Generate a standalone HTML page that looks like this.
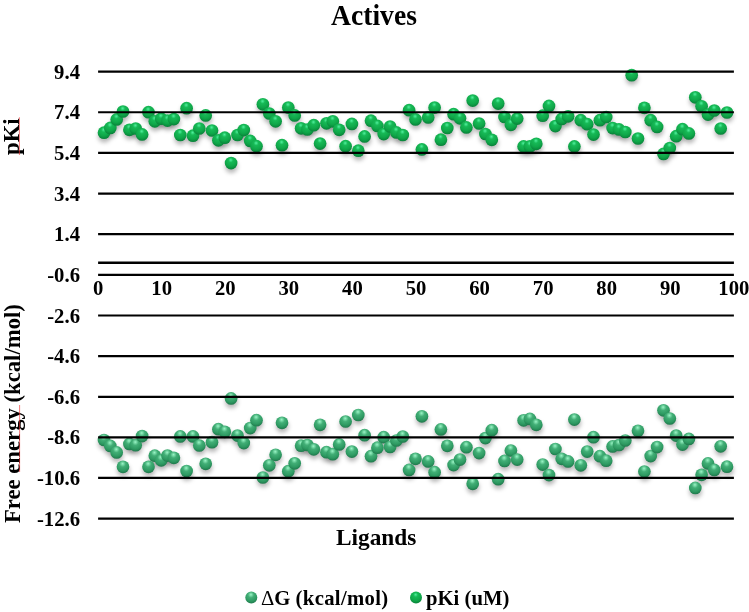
<!DOCTYPE html>
<html><head><meta charset="utf-8"><title>Actives</title>
<style>
html,body{margin:0;padding:0;background:#fff;}
body{width:749px;height:612px;overflow:hidden;}
svg{display:block;}
text{font-family:"Liberation Serif","Times New Roman",serif;font-weight:bold;fill:#000;}
</style></head><body>
<svg width="749" height="612" viewBox="0 0 749 612">
<defs>
<radialGradient id="gp" cx="0.47" cy="0.3" r="0.75" fx="0.47" fy="0.25">
<stop offset="0" stop-color="#50f09e"/>
<stop offset="0.25" stop-color="#17b956"/>
<stop offset="0.62" stop-color="#0fa749"/>
<stop offset="1" stop-color="#077a36"/>
</radialGradient>
<radialGradient id="gb" cx="0.47" cy="0.3" r="0.75" fx="0.47" fy="0.25">
<stop offset="0" stop-color="#9af5c6"/>
<stop offset="0.33" stop-color="#42ae76"/>
<stop offset="0.68" stop-color="#2e9a62"/>
<stop offset="1" stop-color="#1b7046"/>
</radialGradient>
<filter id="sh" x="-50%" y="-50%" width="200%" height="200%"><feGaussianBlur stdDeviation="2.2"/></filter>
</defs>
<rect width="749" height="612" fill="#fff"/>
<text x="374" y="25" transform="matrix(1 0 0 1.055 0 -1.375)" font-size="27.6" text-anchor="middle">Actives</text>
<g filter="url(#sh)" fill="#000" fill-opacity="0.28">
<circle cx="104.3" cy="136.2" r="6.35"/><circle cx="110.6" cy="131.4" r="6.35"/><circle cx="117.0" cy="122.9" r="6.35"/><circle cx="123.3" cy="115.0" r="6.35"/><circle cx="129.7" cy="133.3" r="6.35"/><circle cx="136.0" cy="132.0" r="6.35"/><circle cx="142.4" cy="137.9" r="6.35"/><circle cx="148.8" cy="115.7" r="6.35"/><circle cx="155.1" cy="124.8" r="6.35"/><circle cx="161.5" cy="122.2" r="6.35"/><circle cx="167.8" cy="124.1" r="6.35"/><circle cx="174.2" cy="122.6" r="6.35"/><circle cx="180.6" cy="138.5" r="6.35"/><circle cx="186.9" cy="111.7" r="6.35"/><circle cx="193.3" cy="139.2" r="6.35"/><circle cx="199.6" cy="132.0" r="6.35"/><circle cx="206.0" cy="118.9" r="6.35"/><circle cx="212.3" cy="134.0" r="6.35"/><circle cx="218.7" cy="143.8" r="6.35"/><circle cx="225.1" cy="141.2" r="6.35"/><circle cx="231.4" cy="166.6" r="6.35"/><circle cx="237.8" cy="138.5" r="6.35"/><circle cx="244.1" cy="133.6" r="6.35"/><circle cx="250.5" cy="144.4" r="6.35"/><circle cx="256.8" cy="149.7" r="6.35"/><circle cx="263.2" cy="107.8" r="6.35"/><circle cx="269.6" cy="117.0" r="6.35"/><circle cx="275.9" cy="124.8" r="6.35"/><circle cx="282.3" cy="148.7" r="6.35"/><circle cx="288.6" cy="111.1" r="6.35"/><circle cx="295.0" cy="118.9" r="6.35"/><circle cx="301.4" cy="131.8" r="6.35"/><circle cx="307.7" cy="133.0" r="6.35"/><circle cx="314.1" cy="128.7" r="6.35"/><circle cx="320.4" cy="147.1" r="6.35"/><circle cx="326.8" cy="126.8" r="6.35"/><circle cx="333.1" cy="124.8" r="6.35"/><circle cx="339.5" cy="133.3" r="6.35"/><circle cx="345.9" cy="149.7" r="6.35"/><circle cx="352.2" cy="127.4" r="6.35"/><circle cx="358.6" cy="154.2" r="6.35"/><circle cx="364.9" cy="139.9" r="6.35"/><circle cx="371.3" cy="124.2" r="6.35"/><circle cx="377.7" cy="129.4" r="6.35"/><circle cx="384.0" cy="137.6" r="6.35"/><circle cx="390.4" cy="130.0" r="6.35"/><circle cx="396.7" cy="135.9" r="6.35"/><circle cx="403.1" cy="138.5" r="6.35"/><circle cx="409.4" cy="113.7" r="6.35"/><circle cx="415.8" cy="122.9" r="6.35"/><circle cx="422.2" cy="152.9" r="6.35"/><circle cx="428.5" cy="120.9" r="6.35"/><circle cx="434.9" cy="111.1" r="6.35"/><circle cx="441.2" cy="143.2" r="6.35"/><circle cx="447.6" cy="131.5" r="6.35"/><circle cx="453.9" cy="117.7" r="6.35"/><circle cx="460.3" cy="121.8" r="6.35"/><circle cx="466.7" cy="130.9" r="6.35"/><circle cx="473.0" cy="104.1" r="6.35"/><circle cx="479.4" cy="127.0" r="6.35"/><circle cx="485.7" cy="137.5" r="6.35"/><circle cx="492.1" cy="143.3" r="6.35"/><circle cx="498.5" cy="107.1" r="6.35"/><circle cx="504.8" cy="120.5" r="6.35"/><circle cx="511.2" cy="128.3" r="6.35"/><circle cx="517.5" cy="122.1" r="6.35"/><circle cx="523.9" cy="149.9" r="6.35"/><circle cx="530.2" cy="149.9" r="6.35"/><circle cx="536.6" cy="147.3" r="6.35"/><circle cx="543.0" cy="119.2" r="6.35"/><circle cx="549.3" cy="109.4" r="6.35"/><circle cx="555.7" cy="129.6" r="6.35"/><circle cx="562.0" cy="122.4" r="6.35"/><circle cx="568.4" cy="119.8" r="6.35"/><circle cx="574.7" cy="149.9" r="6.35"/><circle cx="581.1" cy="123.7" r="6.35"/><circle cx="587.5" cy="127.7" r="6.35"/><circle cx="593.8" cy="138.1" r="6.35"/><circle cx="600.2" cy="123.7" r="6.35"/><circle cx="606.5" cy="120.5" r="6.35"/><circle cx="612.9" cy="131.6" r="6.35"/><circle cx="619.3" cy="132.9" r="6.35"/><circle cx="625.6" cy="135.5" r="6.35"/><circle cx="632.0" cy="78.7" r="6.35"/><circle cx="638.3" cy="142.0" r="6.35"/><circle cx="644.7" cy="111.3" r="6.35"/><circle cx="651.0" cy="123.7" r="6.35"/><circle cx="657.4" cy="130.4" r="6.35"/><circle cx="663.8" cy="157.4" r="6.35"/><circle cx="670.1" cy="151.5" r="6.35"/><circle cx="676.5" cy="139.7" r="6.35"/><circle cx="682.8" cy="132.7" r="6.35"/><circle cx="689.2" cy="136.9" r="6.35"/><circle cx="695.6" cy="100.8" r="6.35"/><circle cx="701.9" cy="109.8" r="6.35"/><circle cx="708.3" cy="118.1" r="6.35"/><circle cx="714.6" cy="114.0" r="6.35"/><circle cx="721.0" cy="132.0" r="6.35"/><circle cx="727.3" cy="116.0" r="6.35"/><circle cx="104.3" cy="443.5" r="6.35"/><circle cx="110.6" cy="449.4" r="6.35"/><circle cx="117.0" cy="455.9" r="6.35"/><circle cx="123.3" cy="470.3" r="6.35"/><circle cx="129.7" cy="447.4" r="6.35"/><circle cx="136.0" cy="448.7" r="6.35"/><circle cx="142.4" cy="439.6" r="6.35"/><circle cx="148.8" cy="470.3" r="6.35"/><circle cx="155.1" cy="459.2" r="6.35"/><circle cx="161.5" cy="463.8" r="6.35"/><circle cx="167.8" cy="459.1" r="6.35"/><circle cx="174.2" cy="461.3" r="6.35"/><circle cx="180.6" cy="439.9" r="6.35"/><circle cx="186.9" cy="474.6" r="6.35"/><circle cx="193.3" cy="439.9" r="6.35"/><circle cx="199.6" cy="449.0" r="6.35"/><circle cx="206.0" cy="467.3" r="6.35"/><circle cx="212.3" cy="445.7" r="6.35"/><circle cx="218.7" cy="432.7" r="6.35"/><circle cx="225.1" cy="435.3" r="6.35"/><circle cx="231.4" cy="401.9" r="6.35"/><circle cx="237.8" cy="439.1" r="6.35"/><circle cx="244.1" cy="446.6" r="6.35"/><circle cx="250.5" cy="431.6" r="6.35"/><circle cx="256.8" cy="423.7" r="6.35"/><circle cx="263.2" cy="481.0" r="6.35"/><circle cx="269.6" cy="468.8" r="6.35"/><circle cx="275.9" cy="458.3" r="6.35"/><circle cx="282.3" cy="426.3" r="6.35"/><circle cx="288.6" cy="474.7" r="6.35"/><circle cx="295.0" cy="466.8" r="6.35"/><circle cx="301.4" cy="449.2" r="6.35"/><circle cx="307.7" cy="448.5" r="6.35"/><circle cx="314.1" cy="452.8" r="6.35"/><circle cx="320.4" cy="428.3" r="6.35"/><circle cx="326.8" cy="455.7" r="6.35"/><circle cx="333.1" cy="457.7" r="6.35"/><circle cx="339.5" cy="447.9" r="6.35"/><circle cx="345.9" cy="425.0" r="6.35"/><circle cx="352.2" cy="455.1" r="6.35"/><circle cx="358.6" cy="418.5" r="6.35"/><circle cx="364.9" cy="438.7" r="6.35"/><circle cx="371.3" cy="459.7" r="6.35"/><circle cx="377.7" cy="451.2" r="6.35"/><circle cx="384.0" cy="440.7" r="6.35"/><circle cx="390.4" cy="450.5" r="6.35"/><circle cx="396.7" cy="444.0" r="6.35"/><circle cx="403.1" cy="440.0" r="6.35"/><circle cx="409.4" cy="473.4" r="6.35"/><circle cx="415.8" cy="462.3" r="6.35"/><circle cx="422.2" cy="419.8" r="6.35"/><circle cx="428.5" cy="464.9" r="6.35"/><circle cx="434.9" cy="475.7" r="6.35"/><circle cx="441.2" cy="432.9" r="6.35"/><circle cx="447.6" cy="449.3" r="6.35"/><circle cx="453.9" cy="468.6" r="6.35"/><circle cx="460.3" cy="463.1" r="6.35"/><circle cx="466.7" cy="450.7" r="6.35"/><circle cx="473.0" cy="487.3" r="6.35"/><circle cx="479.4" cy="456.6" r="6.35"/><circle cx="485.7" cy="441.6" r="6.35"/><circle cx="492.1" cy="433.7" r="6.35"/><circle cx="498.5" cy="482.7" r="6.35"/><circle cx="504.8" cy="464.4" r="6.35"/><circle cx="511.2" cy="454.0" r="6.35"/><circle cx="517.5" cy="463.1" r="6.35"/><circle cx="523.9" cy="423.8" r="6.35"/><circle cx="530.2" cy="422.4" r="6.35"/><circle cx="536.6" cy="428.3" r="6.35"/><circle cx="543.0" cy="468.1" r="6.35"/><circle cx="549.3" cy="478.6" r="6.35"/><circle cx="555.7" cy="452.5" r="6.35"/><circle cx="562.0" cy="462.3" r="6.35"/><circle cx="568.4" cy="464.9" r="6.35"/><circle cx="574.7" cy="423.1" r="6.35"/><circle cx="581.1" cy="468.8" r="6.35"/><circle cx="587.5" cy="455.1" r="6.35"/><circle cx="593.8" cy="440.7" r="6.35"/><circle cx="600.2" cy="459.7" r="6.35"/><circle cx="606.5" cy="464.2" r="6.35"/><circle cx="612.9" cy="449.9" r="6.35"/><circle cx="619.3" cy="448.5" r="6.35"/><circle cx="625.6" cy="444.0" r="6.35"/><circle cx="638.3" cy="434.3" r="6.35"/><circle cx="644.7" cy="475.1" r="6.35"/><circle cx="651.0" cy="459.6" r="6.35"/><circle cx="657.4" cy="450.6" r="6.35"/><circle cx="663.8" cy="413.8" r="6.35"/><circle cx="670.1" cy="422.0" r="6.35"/><circle cx="676.5" cy="439.1" r="6.35"/><circle cx="682.8" cy="448.1" r="6.35"/><circle cx="689.2" cy="442.4" r="6.35"/><circle cx="695.6" cy="491.4" r="6.35"/><circle cx="701.9" cy="478.3" r="6.35"/><circle cx="708.3" cy="466.9" r="6.35"/><circle cx="714.6" cy="473.4" r="6.35"/><circle cx="721.0" cy="449.8" r="6.35"/><circle cx="727.3" cy="470.2" r="6.35"/>
</g>
<g fill="url(#gp)">
<circle cx="104.0" cy="132.7" r="6.35"/><circle cx="110.3" cy="127.9" r="6.35"/><circle cx="116.7" cy="119.4" r="6.35"/><circle cx="123.0" cy="111.5" r="6.35"/><circle cx="129.4" cy="129.8" r="6.35"/><circle cx="135.7" cy="128.5" r="6.35"/><circle cx="142.1" cy="134.4" r="6.35"/><circle cx="148.5" cy="112.2" r="6.35"/><circle cx="154.8" cy="121.3" r="6.35"/><circle cx="161.2" cy="118.7" r="6.35"/><circle cx="167.5" cy="120.6" r="6.35"/><circle cx="173.9" cy="119.1" r="6.35"/><circle cx="180.3" cy="135.0" r="6.35"/><circle cx="186.6" cy="108.2" r="6.35"/><circle cx="193.0" cy="135.7" r="6.35"/><circle cx="199.3" cy="128.5" r="6.35"/><circle cx="205.7" cy="115.4" r="6.35"/><circle cx="212.0" cy="130.5" r="6.35"/><circle cx="218.4" cy="140.3" r="6.35"/><circle cx="224.8" cy="137.7" r="6.35"/><circle cx="231.1" cy="163.1" r="6.35"/><circle cx="237.5" cy="135.0" r="6.35"/><circle cx="243.8" cy="130.1" r="6.35"/><circle cx="250.2" cy="140.9" r="6.35"/><circle cx="256.5" cy="146.2" r="6.35"/><circle cx="262.9" cy="104.3" r="6.35"/><circle cx="269.3" cy="113.5" r="6.35"/><circle cx="275.6" cy="121.3" r="6.35"/><circle cx="282.0" cy="145.2" r="6.35"/><circle cx="288.3" cy="107.6" r="6.35"/><circle cx="294.7" cy="115.4" r="6.35"/><circle cx="301.1" cy="128.3" r="6.35"/><circle cx="307.4" cy="129.5" r="6.35"/><circle cx="313.8" cy="125.2" r="6.35"/><circle cx="320.1" cy="143.6" r="6.35"/><circle cx="326.5" cy="123.3" r="6.35"/><circle cx="332.8" cy="121.3" r="6.35"/><circle cx="339.2" cy="129.8" r="6.35"/><circle cx="345.6" cy="146.2" r="6.35"/><circle cx="351.9" cy="123.9" r="6.35"/><circle cx="358.3" cy="150.7" r="6.35"/><circle cx="364.6" cy="136.4" r="6.35"/><circle cx="371.0" cy="120.7" r="6.35"/><circle cx="377.4" cy="125.9" r="6.35"/><circle cx="383.7" cy="134.1" r="6.35"/><circle cx="390.1" cy="126.5" r="6.35"/><circle cx="396.4" cy="132.4" r="6.35"/><circle cx="402.8" cy="135.0" r="6.35"/><circle cx="409.1" cy="110.2" r="6.35"/><circle cx="415.5" cy="119.4" r="6.35"/><circle cx="421.9" cy="149.4" r="6.35"/><circle cx="428.2" cy="117.4" r="6.35"/><circle cx="434.6" cy="107.6" r="6.35"/><circle cx="440.9" cy="139.7" r="6.35"/><circle cx="447.3" cy="128.0" r="6.35"/><circle cx="453.6" cy="114.2" r="6.35"/><circle cx="460.0" cy="118.3" r="6.35"/><circle cx="466.4" cy="127.4" r="6.35"/><circle cx="472.7" cy="100.6" r="6.35"/><circle cx="479.1" cy="123.5" r="6.35"/><circle cx="485.4" cy="134.0" r="6.35"/><circle cx="491.8" cy="139.8" r="6.35"/><circle cx="498.2" cy="103.6" r="6.35"/><circle cx="504.5" cy="117.0" r="6.35"/><circle cx="510.9" cy="124.8" r="6.35"/><circle cx="517.2" cy="118.6" r="6.35"/><circle cx="523.6" cy="146.4" r="6.35"/><circle cx="529.9" cy="146.4" r="6.35"/><circle cx="536.3" cy="143.8" r="6.35"/><circle cx="542.7" cy="115.7" r="6.35"/><circle cx="549.0" cy="105.9" r="6.35"/><circle cx="555.4" cy="126.1" r="6.35"/><circle cx="561.7" cy="118.9" r="6.35"/><circle cx="568.1" cy="116.3" r="6.35"/><circle cx="574.4" cy="146.4" r="6.35"/><circle cx="580.8" cy="120.2" r="6.35"/><circle cx="587.2" cy="124.2" r="6.35"/><circle cx="593.5" cy="134.6" r="6.35"/><circle cx="599.9" cy="120.2" r="6.35"/><circle cx="606.2" cy="117.0" r="6.35"/><circle cx="612.6" cy="128.1" r="6.35"/><circle cx="619.0" cy="129.4" r="6.35"/><circle cx="625.3" cy="132.0" r="6.35"/><circle cx="631.7" cy="75.2" r="6.35"/><circle cx="638.0" cy="138.5" r="6.35"/><circle cx="644.4" cy="107.8" r="6.35"/><circle cx="650.7" cy="120.2" r="6.35"/><circle cx="657.1" cy="126.9" r="6.35"/><circle cx="663.5" cy="153.9" r="6.35"/><circle cx="669.8" cy="148.0" r="6.35"/><circle cx="676.2" cy="136.2" r="6.35"/><circle cx="682.5" cy="129.2" r="6.35"/><circle cx="688.9" cy="133.4" r="6.35"/><circle cx="695.3" cy="97.3" r="6.35"/><circle cx="701.6" cy="106.3" r="6.35"/><circle cx="708.0" cy="114.6" r="6.35"/><circle cx="714.3" cy="110.5" r="6.35"/><circle cx="720.7" cy="128.5" r="6.35"/><circle cx="727.0" cy="112.5" r="6.35"/>
</g>
<g fill="url(#gb)">
<circle cx="104.0" cy="440.0" r="6.35"/><circle cx="110.3" cy="445.9" r="6.35"/><circle cx="116.7" cy="452.4" r="6.35"/><circle cx="123.0" cy="466.8" r="6.35"/><circle cx="129.4" cy="443.9" r="6.35"/><circle cx="135.7" cy="445.2" r="6.35"/><circle cx="142.1" cy="436.1" r="6.35"/><circle cx="148.5" cy="466.8" r="6.35"/><circle cx="154.8" cy="455.7" r="6.35"/><circle cx="161.2" cy="460.3" r="6.35"/><circle cx="167.5" cy="455.6" r="6.35"/><circle cx="173.9" cy="457.8" r="6.35"/><circle cx="180.3" cy="436.4" r="6.35"/><circle cx="186.6" cy="471.1" r="6.35"/><circle cx="193.0" cy="436.4" r="6.35"/><circle cx="199.3" cy="445.5" r="6.35"/><circle cx="205.7" cy="463.8" r="6.35"/><circle cx="212.0" cy="442.2" r="6.35"/><circle cx="218.4" cy="429.2" r="6.35"/><circle cx="224.8" cy="431.8" r="6.35"/><circle cx="231.1" cy="398.4" r="6.35"/><circle cx="237.5" cy="435.6" r="6.35"/><circle cx="243.8" cy="443.1" r="6.35"/><circle cx="250.2" cy="428.1" r="6.35"/><circle cx="256.5" cy="420.2" r="6.35"/><circle cx="262.9" cy="477.5" r="6.35"/><circle cx="269.3" cy="465.3" r="6.35"/><circle cx="275.6" cy="454.8" r="6.35"/><circle cx="282.0" cy="422.8" r="6.35"/><circle cx="288.3" cy="471.2" r="6.35"/><circle cx="294.7" cy="463.3" r="6.35"/><circle cx="301.1" cy="445.7" r="6.35"/><circle cx="307.4" cy="445.0" r="6.35"/><circle cx="313.8" cy="449.3" r="6.35"/><circle cx="320.1" cy="424.8" r="6.35"/><circle cx="326.5" cy="452.2" r="6.35"/><circle cx="332.8" cy="454.2" r="6.35"/><circle cx="339.2" cy="444.4" r="6.35"/><circle cx="345.6" cy="421.5" r="6.35"/><circle cx="351.9" cy="451.6" r="6.35"/><circle cx="358.3" cy="415.0" r="6.35"/><circle cx="364.6" cy="435.2" r="6.35"/><circle cx="371.0" cy="456.2" r="6.35"/><circle cx="377.4" cy="447.7" r="6.35"/><circle cx="383.7" cy="437.2" r="6.35"/><circle cx="390.1" cy="447.0" r="6.35"/><circle cx="396.4" cy="440.5" r="6.35"/><circle cx="402.8" cy="436.5" r="6.35"/><circle cx="409.1" cy="469.9" r="6.35"/><circle cx="415.5" cy="458.8" r="6.35"/><circle cx="421.9" cy="416.3" r="6.35"/><circle cx="428.2" cy="461.4" r="6.35"/><circle cx="434.6" cy="472.2" r="6.35"/><circle cx="440.9" cy="429.4" r="6.35"/><circle cx="447.3" cy="445.8" r="6.35"/><circle cx="453.6" cy="465.1" r="6.35"/><circle cx="460.0" cy="459.6" r="6.35"/><circle cx="466.4" cy="447.2" r="6.35"/><circle cx="472.7" cy="483.8" r="6.35"/><circle cx="479.1" cy="453.1" r="6.35"/><circle cx="485.4" cy="438.1" r="6.35"/><circle cx="491.8" cy="430.2" r="6.35"/><circle cx="498.2" cy="479.2" r="6.35"/><circle cx="504.5" cy="460.9" r="6.35"/><circle cx="510.9" cy="450.5" r="6.35"/><circle cx="517.2" cy="459.6" r="6.35"/><circle cx="523.6" cy="420.3" r="6.35"/><circle cx="529.9" cy="418.9" r="6.35"/><circle cx="536.3" cy="424.8" r="6.35"/><circle cx="542.7" cy="464.6" r="6.35"/><circle cx="549.0" cy="475.1" r="6.35"/><circle cx="555.4" cy="449.0" r="6.35"/><circle cx="561.7" cy="458.8" r="6.35"/><circle cx="568.1" cy="461.4" r="6.35"/><circle cx="574.4" cy="419.6" r="6.35"/><circle cx="580.8" cy="465.3" r="6.35"/><circle cx="587.2" cy="451.6" r="6.35"/><circle cx="593.5" cy="437.2" r="6.35"/><circle cx="599.9" cy="456.2" r="6.35"/><circle cx="606.2" cy="460.7" r="6.35"/><circle cx="612.6" cy="446.4" r="6.35"/><circle cx="619.0" cy="445.0" r="6.35"/><circle cx="625.3" cy="440.5" r="6.35"/><circle cx="638.0" cy="430.8" r="6.35"/><circle cx="644.4" cy="471.6" r="6.35"/><circle cx="650.7" cy="456.1" r="6.35"/><circle cx="657.1" cy="447.1" r="6.35"/><circle cx="663.5" cy="410.3" r="6.35"/><circle cx="669.8" cy="418.5" r="6.35"/><circle cx="676.2" cy="435.6" r="6.35"/><circle cx="682.5" cy="444.6" r="6.35"/><circle cx="688.9" cy="438.9" r="6.35"/><circle cx="695.3" cy="487.9" r="6.35"/><circle cx="701.6" cy="474.8" r="6.35"/><circle cx="708.0" cy="463.4" r="6.35"/><circle cx="714.3" cy="469.9" r="6.35"/><circle cx="720.7" cy="446.3" r="6.35"/><circle cx="727.0" cy="466.7" r="6.35"/>
</g>
<g stroke="#000" stroke-width="2.2">
<line x1="98.1" x2="733.9" y1="71.6" y2="71.6"/><line x1="98.1" x2="733.9" y1="112.25" y2="112.25"/><line x1="98.1" x2="733.9" y1="152.9" y2="152.9"/><line x1="98.1" x2="733.9" y1="193.6" y2="193.6"/><line x1="98.1" x2="733.9" y1="234.1" y2="234.1"/><line x1="98.1" x2="733.9" y1="274.8" y2="274.8"/><line x1="98.1" x2="733.9" y1="315.5" y2="315.5"/><line x1="98.1" x2="733.9" y1="356.1" y2="356.1"/><line x1="98.1" x2="733.9" y1="396.8" y2="396.8"/><line x1="98.1" x2="733.9" y1="437.4" y2="437.4"/><line x1="98.1" x2="733.9" y1="477.9" y2="477.9"/><line x1="98.1" x2="733.9" y1="518.6" y2="518.6"/><line x1="98.1" x2="733.9" y1="262.7" y2="262.7" stroke-width="2.5"/>
</g>
<g font-size="20.7" text-anchor="end">
<text x="80" y="78.7" transform="matrix(1 0 0 1.055 0 -4.328)">9.4</text><text x="80" y="119.3" transform="matrix(1 0 0 1.055 0 -6.564)">7.4</text><text x="80" y="160.0" transform="matrix(1 0 0 1.055 0 -8.800)">5.4</text><text x="80" y="200.7" transform="matrix(1 0 0 1.055 0 -11.038)">3.4</text><text x="80" y="241.2" transform="matrix(1 0 0 1.055 0 -13.266)">1.4</text><text x="80" y="281.9" transform="matrix(1 0 0 1.055 0 -15.504)">-0.6</text><text x="80" y="322.6" transform="matrix(1 0 0 1.055 0 -17.743)">-2.6</text><text x="80" y="363.2" transform="matrix(1 0 0 1.055 0 -19.976)">-4.6</text><text x="80" y="403.9" transform="matrix(1 0 0 1.055 0 -22.214)">-6.6</text><text x="80" y="444.5" transform="matrix(1 0 0 1.055 0 -24.447)">-8.6</text><text x="80" y="485.0" transform="matrix(1 0 0 1.055 0 -26.675)">-10.6</text><text x="80" y="525.7" transform="matrix(1 0 0 1.055 0 -28.913)">-12.6</text>
</g>
<g font-size="20.7" text-anchor="middle">
<text x="98.1" y="294.8" transform="matrix(1 0 0 1.055 0 -16.214)">0</text><text x="161.7" y="294.8" transform="matrix(1 0 0 1.055 0 -16.214)">10</text><text x="225.3" y="294.8" transform="matrix(1 0 0 1.055 0 -16.214)">20</text><text x="288.8" y="294.8" transform="matrix(1 0 0 1.055 0 -16.214)">30</text><text x="352.4" y="294.8" transform="matrix(1 0 0 1.055 0 -16.214)">40</text><text x="416.0" y="294.8" transform="matrix(1 0 0 1.055 0 -16.214)">50</text><text x="479.6" y="294.8" transform="matrix(1 0 0 1.055 0 -16.214)">60</text><text x="543.2" y="294.8" transform="matrix(1 0 0 1.055 0 -16.214)">70</text><text x="606.7" y="294.8" transform="matrix(1 0 0 1.055 0 -16.214)">80</text><text x="670.3" y="294.8" transform="matrix(1 0 0 1.055 0 -16.214)">90</text><text x="733.9" y="294.8" transform="matrix(1 0 0 1.055 0 -16.214)">100</text>
</g>
<text transform="translate(19.4,136.7) rotate(-90) scale(1,1.055)" font-size="22.7" text-anchor="middle">pKi</text>
<line x1="19.4" x2="19.4" y1="117.3" y2="155" stroke="#f03030" stroke-width="0.8" stroke-opacity="0.8"/>
<text transform="translate(19.6,413.6) rotate(-90) scale(1,1.055)" font-size="22.7" text-anchor="middle">Free energy (kcal/mol)</text>
<line x1="19.6" x2="19.6" y1="405" y2="472" stroke="#f03030" stroke-width="0.8" stroke-opacity="0.8"/>
<text x="376.2" y="544.6" font-size="23.3" text-anchor="middle">Ligands</text>
<circle cx="251.3" cy="597.6" r="6" fill="url(#gb)"/>
<text x="261" y="605" transform="matrix(1 0 0 1.055 0 -33.275)" font-size="20.7"><tspan font-weight="normal">Δ</tspan>G <tspan letter-spacing="0.33">(kcal/mol)</tspan></text>
<circle cx="416" cy="597.6" r="6" fill="url(#gp)"/>
<text x="426" y="605" transform="matrix(1 0 0 1.055 0 -33.275)" font-size="20.7">pKi (uM)</text>
</svg>
</body></html>
